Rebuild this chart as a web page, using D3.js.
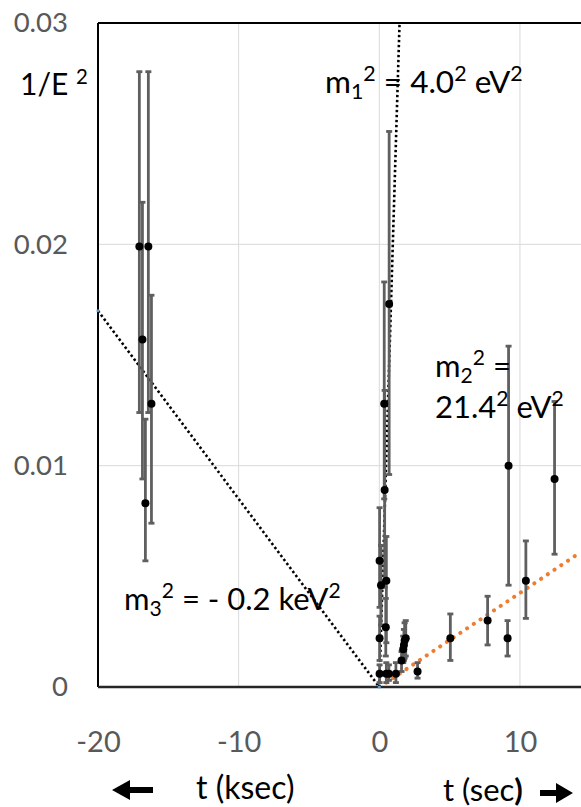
<!DOCTYPE html>
<html>
<head>
<meta charset="utf-8">
<script src="https://cdn.jsdelivr.net/npm/d3@7"></script>
<style>
  body { margin: 0; background: #fff; }
  svg { display: block; font-family: Lato, "Open Sans", sans-serif; }
</style>
</head>
<body>
<div id="chart"></div>
<script>
'use strict';

// ---- data --------------------------------------------------------
// t: negative side is ksec, positive side is sec
var pointT  = [-17.06, -16.42, -16.84, -16.20, -16.63,
               0.70, 0.35, 0.38, 0.02, 0.12, 0.50, 0.46, 0.02,
               0.02, 0.50, 0.68, 1.18, 1.58, 1.70, 1.75, 1.80, 1.88, 2.72,
               5.05, 7.70, 9.12, 9.19, 10.42, 12.46];
var pointV  = [0.0199, 0.0199, 0.0157, 0.0128, 0.0083,
               0.0173, 0.0128, 0.0089, 0.0057, 0.0046, 0.0048, 0.0027, 0.0022,
               0.0006, 0.0006, 0.0006, 0.0006, 0.0012, 0.0017, 0.0019, 0.0021, 0.0022, 0.0007,
               0.0022, 0.0030, 0.0022, 0.0100, 0.0048, 0.0094];
var errLo   = [0.0124, 0.0124, 0.0094, 0.0074, 0.0057,
               0.0096, 0.0085, 0.0045, 0.0036, 0.0028, 0.0020, 0.0014, 0.0012,
               0.0002, 0.0002, 0.0003, 0.0002, 0.0007, 0.0011, 0.0012, 0.0013, 0.0014, 0.0004,
               0.0012, 0.0019, 0.0014, 0.0046, 0.0031, 0.0060];
var errHi   = [0.0278, 0.0278, 0.0219, 0.0177, 0.0121,
               0.0251, 0.0183, 0.0134, 0.0081, 0.0064, 0.0068, 0.0040, 0.0032,
               0.0010, 0.0011, 0.0010, 0.0011, 0.0016, 0.0023, 0.0026, 0.0029, 0.0030, 0.0011,
               0.0033, 0.0041, 0.0030, 0.0154, 0.0066, 0.0129];

// fitted mass lines
var m1LineT = [0, 1.44];
var m1LineV = [0, 0.03];
var m3LineT = [-20, 0];
var m3LineV = [0.0170, 0];
var m2LineT = [0.5, 14.34];
var m2LineV = [0.0002, 0.0061];

var xTicks  = [-20, -10, 0, 10];
var xLabels = ['-20', '-10', '0', '10'];
var yTicks  = [0, 0.01, 0.02, 0.03];
var yLabels = ['0', '0.01', '0.02', '0.03'];
var xGrid   = [-10, 0, 10];
var yGrid   = [0.01, 0.02];

// ------------------------------------------------------------------
var W = 581, H = 807;
var plot = {left: 98, top: 23, right: 581, bottom: 687};

var svg = d3.select('#chart').append('svg')
    .attr('width', W)
    .attr('height', H);

svg.append('rect').attr('width', W).attr('height', H).attr('fill', '#fff');

var xScale = d3.scaleLinear().domain([-20, 14.34]).range([plot.left, plot.right]);
var yScale = d3.scaleLinear().domain([0, 0.03]).range([plot.bottom, plot.top]);

// grid
svg.append('g').selectAll('line').data(xGrid).enter().append('line')
    .attr('x1', function(d){ return xScale(d); })
    .attr('x2', function(d){ return xScale(d); })
    .attr('y1', plot.top).attr('y2', plot.bottom)
    .attr('stroke', '#d9d9d9').attr('stroke-width', 1);

svg.append('g').selectAll('line').data(yGrid).enter().append('line')
    .attr('y1', function(d){ return yScale(d); })
    .attr('y2', function(d){ return yScale(d); })
    .attr('x1', plot.left).attr('x2', plot.right)
    .attr('stroke', '#d9d9d9').attr('stroke-width', 1);

// axes (labels only, frame drawn separately)
var yAxis = d3.axisLeft(yScale).tickValues(yTicks).tickSize(0).tickPadding(30)
    .tickFormat(function(d, i){ return yLabels[i]; });
var xAxis = d3.axisBottom(xScale).tickValues(xTicks).tickSize(0).tickPadding(44)
    .tickFormat(function(d, i){ return xLabels[i]; });

var yAxisGroup = svg.append('g').attr('transform', 'translate(' + plot.left + ',0)').call(yAxis);
var xAxisGroup = svg.append('g').attr('transform', 'translate(0,' + plot.bottom + ')').call(xAxis);

yAxisGroup.select('.domain').remove();
xAxisGroup.select('.domain').remove();
yAxisGroup.selectAll('text')
    .attr('fill', '#595959')
    .style('font-family', 'Lato, sans-serif')
    .style('font-size', '27.5px');
xAxisGroup.selectAll('text')
    .attr('fill', '#595959')
    .style('font-family', 'Lato, sans-serif')
    .style('font-size', '29px');

// frame
svg.append('line').attr('x1', plot.left).attr('x2', plot.right)
    .attr('y1', plot.top).attr('y2', plot.top)
    .attr('stroke', '#000').attr('stroke-width', 2);
svg.append('line').attr('x1', plot.left).attr('x2', plot.left)
    .attr('y1', plot.top).attr('y2', plot.bottom)
    .attr('stroke', '#000').attr('stroke-width', 2);
svg.append('line').attr('x1', plot.left).attr('x2', plot.right)
    .attr('y1', plot.bottom).attr('y2', plot.bottom)
    .attr('stroke', '#262626').attr('stroke-width', 2.5);

// fitted lines
function dotted(ts, vs)
{
    return d3.line()
        .x(function(d){ return xScale(d[0]); })
        .y(function(d){ return yScale(d[1]); })(d3.zip(ts, vs));
}

svg.append('path').attr('d', dotted(m3LineT, m3LineV))
    .attr('fill', 'none').attr('stroke', '#000')
    .attr('stroke-width', 2.6).attr('stroke-dasharray', '2.4,2.6');
svg.append('path').attr('d', dotted(m1LineT, m1LineV))
    .attr('fill', 'none').attr('stroke', '#000')
    .attr('stroke-width', 2.6).attr('stroke-dasharray', '2.4,2.6');
svg.append('path').attr('d', dotted(m2LineT, m2LineV))
    .attr('fill', 'none').attr('stroke', '#ED7D31')
    .attr('stroke-width', 4).attr('stroke-linecap', 'round')
    .attr('stroke-dasharray', '0.1,8');

// tiny end markers of the fit series
svg.append('g').selectAll('circle').data([[m3LineT[0], m3LineV[0]], [0, 0]]).enter().append('circle')
    .attr('cx', function(d){ return xScale(d[0]); })
    .attr('cy', function(d){ return yScale(d[1]); })
    .attr('r', 1.6).attr('fill', '#5B9BD5');

// error bars
var pts = pointT.map(function(t, i){
    return {t: t, v: pointV[i], lo: errLo[i], hi: errHi[i]};
});

var bars = svg.append('g').attr('stroke', '#5f5f5f').attr('stroke-width', 2.8);
var capW = 3;
bars.selectAll('.eb').data(pts).enter().append('line')
    .attr('x1', function(d){ return xScale(d.t); })
    .attr('x2', function(d){ return xScale(d.t); })
    .attr('y1', function(d){ return yScale(d.lo); })
    .attr('y2', function(d){ return yScale(d.hi); });
bars.selectAll('.capHi').data(pts).enter().append('line')
    .attr('x1', function(d){ return xScale(d.t) - capW; })
    .attr('x2', function(d){ return xScale(d.t) + capW; })
    .attr('y1', function(d){ return yScale(d.hi); })
    .attr('y2', function(d){ return yScale(d.hi); });
bars.selectAll('.capLo').data(pts).enter().append('line')
    .attr('x1', function(d){ return xScale(d.t) - capW; })
    .attr('x2', function(d){ return xScale(d.t) + capW; })
    .attr('y1', function(d){ return yScale(d.lo); })
    .attr('y2', function(d){ return yScale(d.lo); });

svg.append('g').selectAll('circle').data(pts).enter().append('circle')
    .attr('cx', function(d){ return xScale(d.t); })
    .attr('cy', function(d){ return yScale(d.v); })
    .attr('r', 4).attr('fill', '#000');

// annotations with sub/superscripts
function rich(x, y, parts, size)
{
    var t = svg.append('text').attr('x', x).attr('y', y)
        .attr('fill', '#000').style('font-size', size + 'px');
    var shift = 0;
    parts.forEach(function(p){
        var s = p[1] || 'n';
        var target = s === 'sup' ? -0.38 * size : (s === 'sub' ? 0.2 * size : 0);
        t.append('tspan')
            .attr('dy', target - shift)
            .style('font-size', (s === 'n' ? size : size * 0.68) + 'px')
            .style('font-weight', p[2] ? 'bold' : null)
            .text(p[0]);
        shift = target;
    });
    return t;
}

rich(20, 95, [['1/E '], ['2', 'sup']], 30);
rich(325, 93, [['m'], ['1', 'sub'], ['2', 'sup'], [' = 4.0'], ['2', 'sup'], [' eV'], ['2', 'sup']], 31.5);
rich(435, 377, [['m'], ['2', 'sub'], ['2', 'sup'], [' =']], 31);
rich(435, 418, [['21.4'], ['2', 'sup'], [' eV'], ['2', 'sup']], 31);
rich(124, 610, [['m'], ['3', 'sub'], ['2', 'sup'], [' = - 0.2 keV'], ['2', 'sup']], 31);

// bottom captions with arrows
rich(196, 799, [['t (ksec)']], 32);
rich(443, 801, [['t (sec'], [')', 'n', true]], 31);

svg.append('path')
    .attr('d', 'M112,790 L130,780 L130,787 L153,787 L153,793 L130,793 L130,800 Z')
    .attr('fill', '#000');
svg.append('path')
    .attr('d', 'M573,793 L556,783 L556,790 L540,790 L540,796 L556,796 L556,803 Z')
    .attr('fill', '#000');
</script>
</body>
</html>
